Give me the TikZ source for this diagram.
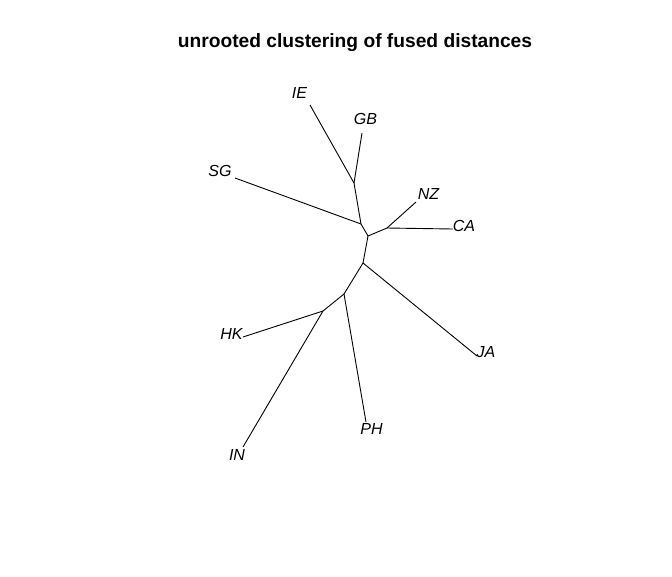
\documentclass[tikz,border=0pt]{standalone}
\usepackage{fontspec}
\setmainfont{Liberation Sans}
\begin{document}
\begin{tikzpicture}[x=1pt,y=-1pt,
  edge/.style={draw=black,line width=0.9pt},
  lbl/.style={font=\fontsize{16}{19}\selectfont\itshape,inner sep=0pt,anchor=center},
  ttl/.style={font=\fontsize{19.2}{23}\selectfont\bfseries,inner sep=0pt,anchor=base}]
\useasboundingbox[fill=white] (0,0) rectangle (672,576);
\node[ttl] (title) at (355,47) {unrooted clustering of fused distances};
% internal nodes
\coordinate (A) at (354,183);
\coordinate (B) at (361,224);
\coordinate (C) at (368,236);
\coordinate (D) at (387,228);
\coordinate (E) at (363,263);
\coordinate (F) at (344,294);
\coordinate (G) at (323,311);
% tips
\coordinate (tIE) at (310,105);
\coordinate (tGB) at (362,133);
\coordinate (tSG) at (235,178);
\coordinate (tNZ) at (416,202);
\coordinate (tCA) at (453,229);
\coordinate (tJA) at (477,356);
\coordinate (tPH) at (366,422);
\coordinate (tHK) at (243,337);
\coordinate (tIN) at (243,447);
% edges
\draw[edge] (A) -- (tIE);
\draw[edge] (A) -- (tGB);
\draw[edge] (A) -- (B);
\draw[edge] (B) -- (tSG);
\draw[edge] (B) -- (C);
\draw[edge] (C) -- (D);
\draw[edge] (D) -- (tNZ);
\draw[edge] (D) -- (tCA);
\draw[edge] (C) -- (E);
\draw[edge] (E) -- (tJA);
\draw[edge] (E) -- (F);
\draw[edge] (F) -- (tPH);
\draw[edge] (F) -- (G);
\draw[edge] (G) -- (tHK);
\draw[edge] (G) -- (tIN);
% labels
\node[lbl] (IE) at (299.5,93) {IE};
\node[lbl] (GB) at (365.5,119) {GB};
\node[lbl] (SG) at (220,170.5) {SG};
\node[lbl] (NZ) at (428.5,194) {NZ};
\node[lbl] (CA) at (464,226) {CA};
\node[lbl] (JA) at (486,352) {JA};
\node[lbl] (PH) at (371.5,429) {PH};
\node[lbl] (HK) at (231.5,333.5) {HK};
\node[lbl] (IN) at (237,455) {IN};
\end{tikzpicture}
\end{document}
